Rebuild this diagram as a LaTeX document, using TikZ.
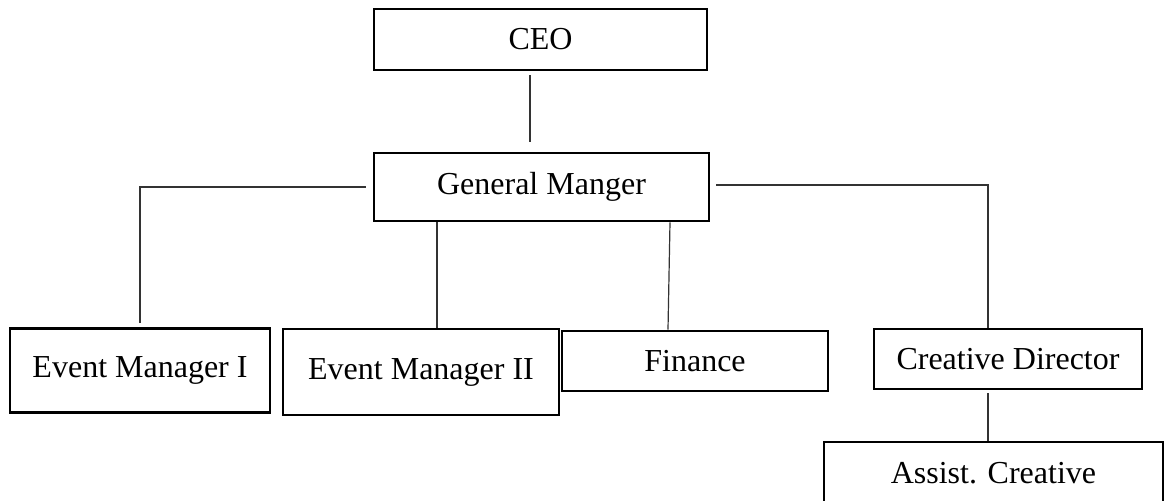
\documentclass[tikz,border=0pt]{standalone}
\usepackage{fontspec}
\setmainfont{Liberation Serif}
\usepackage{tikz}
\usetikzlibrary{positioning}
\tikzstyle{post} = [rectangle, draw=black, line width=1.3pt, inner sep=0pt, text centered, font=\fontsize{16}{19}\selectfont]
\tikzstyle{link} = [line width=0.6pt, draw=black!80]

\begin{document}
\begin{tikzpicture}[x=0.5pt, y=-0.5pt]
\useasboundingbox (0,0) rectangle (1169,500);
\node (ceo) [post, minimum width=166.5pt, minimum height=30.5pt] at (540.5,39.5) {CEO};
\node (gm) [post, minimum width=167.5pt, minimum height=34pt] at (541.5,187) {General Manger};
\node (em1) [post, minimum width=130pt, minimum height=42pt] at (140,370.5) {Event Manager I};
\node (em2) [post, minimum width=138pt, minimum height=43pt] at (421,372) {Event Manager II};
\node (fin) [post, minimum width=133pt, minimum height=30pt] at (695,361) {Finance};
\node (cd) [post, minimum width=134pt, minimum height=30pt] at (1008,359) {Creative Director};
\node (ac) [post, minimum width=169.5pt, minimum height=31pt] at (993.5,473) {Assist. Creative};

\draw [link, shorten <=2pt, shorten >=5pt] ([xshift=-5.25pt]ceo.south) -- ([xshift=-5.75pt]gm.north);
\draw [link, shorten <=3.5pt, shorten >=2pt] (gm.west) -| (em1.north);
\draw [link] ([xshift=-52.25pt]gm.south) -- ([xshift=8pt]em2.north);
\draw [link] ([xshift=64.25pt]gm.south) -- ([xshift=-13.5pt]fin.north);
\draw [link, shorten <=3pt] ([yshift=1pt]gm.east) -| ([xshift=-10pt]cd.north);
\draw [link, shorten <=1.5pt] ([xshift=-10pt]cd.south) -- ([xshift=-2.75pt]ac.north);
\end{tikzpicture}
\end{document}
